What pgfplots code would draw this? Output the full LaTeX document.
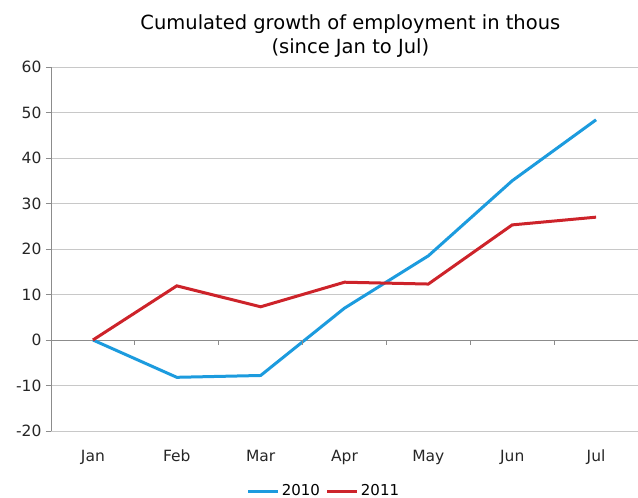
\documentclass[border=0pt]{standalone}
\usepackage{pgfplots}
\pgfplotsset{compat=1.18}
\usepackage{fontspec}
\setmainfont{DejaVu Sans}
\definecolor{c2010}{RGB}{28,155,222}
\definecolor{c2011}{RGB}{205,35,42}
\definecolor{gridc}{RGB}{200,200,200}
\definecolor{axc}{RGB}{140,140,140}
\begin{document}
\begin{tikzpicture}[x=1pt,y=1pt]
\path[use as bounding box] (-51,-67) rectangle (587,431);
\begin{axis}[
  at={(0,0)}, anchor=south west,
  scale only axis, width=587pt, height=364pt,
  xmin=-0.5, xmax=6.5, ymin=-20, ymax=60,
  xtick={0,...,6}, xticklabels={Jan,Feb,Mar,Apr,May,Jun,Jul},
  ytick={-20,-10,...,60},
  axis x line*=bottom, axis y line*=left,
  x axis line style={draw=gridc, line width=0.8pt, -},
  y axis line style={draw=axc, line width=0.8pt, -},
  ymajorgrids, grid style={gridc, line width=0.8pt},
  extra y ticks={0}, extra y tick labels={},
  extra y tick style={grid style={axc, line width=0.8pt}},
  tick align=outside,
  x tick style={draw=none},
  y tick style={axc, line width=0.8pt}, major tick length=5pt,
  tick label style={font=\fontsize{15.5}{17}\selectfont, text=black!85},
  yticklabel style={xshift=-1pt},
  /pgf/number format/assume math mode=true,
  xticklabel style={yshift=-11pt, text height=11pt, text depth=3pt},
  legend style={at={(0.465,-0.165)}, anchor=center, draw=none, fill=none,
    legend columns=2, font=\fontsize{15}{17}\selectfont,
    /tikz/every even column/.append style={column sep=4pt}},
  legend image code/.code={\draw[#1, line width=3pt] (0pt,0pt) -- (30pt,0pt);},
  title={Cumulated growth of employment in thous\\(since Jan to Jul)},
  title style={font=\fontsize{19.5}{24}\selectfont, align=center, at={(0.51,1)}, anchor=south, yshift=0pt},
  clip=false,
]
\addplot[c2010, line width=3pt] coordinates {(0,0) (1,-8.2) (2,-7.8) (3,7.0) (4,18.5) (5,35.0) (6,48.4)};
\addlegendentry{2010}
\addplot[c2011, line width=3pt] coordinates {(0,0) (1,11.9) (2,7.3) (3,12.7) (4,12.3) (5,25.3) (6,27.0)};
\addlegendentry{2011}
\pgfplotsinvokeforeach{0.5,1.5,2.5,3.5,4.5,5.5}{\draw[axc, line width=0.8pt] (axis cs:#1,0) -- ++(0pt,-5pt);}
\end{axis}
\end{tikzpicture}
\end{document}
